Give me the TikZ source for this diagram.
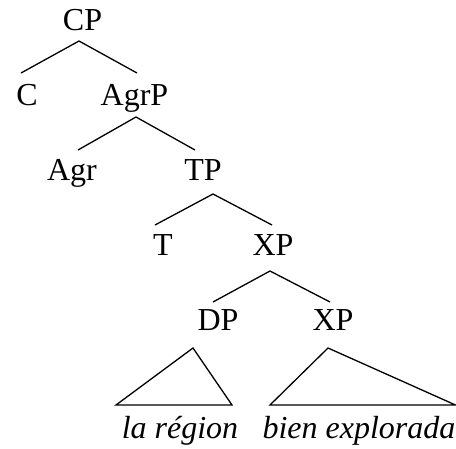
\documentclass[tikz,border=0pt]{standalone}
\usepackage{fontspec}
\setmainfont{Liberation Serif}
\begin{document}
\begin{tikzpicture}[x=1pt,y=-1pt,
  lbl/.style={anchor=base, inner sep=0pt, font=\fontsize{32}{38}\selectfont},
  br/.style={line width=1.3pt, line join=miter}]
\useasboundingbox (0,0) rectangle (456,448);
% labels
\node[lbl] (cp)   at (82.5,30) {CP};
\node[lbl] (c)    at (27,105) {C};
\node[lbl] (agrp) at (134.5,105) {AgrP};
\node[lbl] (agr)  at (72,180) {Agr};
\node[lbl] (tp)   at (203,180) {TP};
\node[lbl] (t)    at (163,255) {T};
\node[lbl] (xp)   at (273,255) {XP};
\node[lbl] (dp)   at (218,330) {DP};
\node[lbl] (xpb)  at (333,330) {XP};
\node[lbl] (la)   at (180,438) {\itshape la région};
\node[lbl] (bien) at (359,438) {\itshape bien explorada};
% attachment points
\coordinate (cp-b)   at (79,41);
\coordinate (c-t)    at (21,73);
\coordinate (agrp-t) at (137,73);
\coordinate (agrp-b) at (136,117);
\coordinate (agr-t)  at (78,150);
\coordinate (tp-t)   at (195,150);
\coordinate (tp-b)   at (213,194);
\coordinate (t-t)    at (155,225);
\coordinate (xp-t)   at (272,225);
\coordinate (xp-b)   at (270,271);
\coordinate (dp-t)   at (213,302);
\coordinate (xpb-t)  at (330,302);
\coordinate (dp-b)   at (193,348);
\coordinate (la-l)   at (116,405);
\coordinate (la-r)   at (232,405);
\coordinate (xpb-b)  at (328,348);
\coordinate (bien-l) at (270,405);
\coordinate (bien-r) at (455.5,405);
% branches
\draw[br] (c-t) -- (cp-b) -- (agrp-t);
\draw[br] (agr-t) -- (agrp-b) -- (tp-t);
\draw[br] (t-t) -- (tp-b) -- (xp-t);
\draw[br] (dp-t) -- (xp-b) -- (xpb-t);
\draw[br] (dp-b) -- (la-l) -- (la-r) -- cycle;
\draw[br] (xpb-b) -- (bien-l) -- (bien-r) -- cycle;
\end{tikzpicture}
\end{document}
